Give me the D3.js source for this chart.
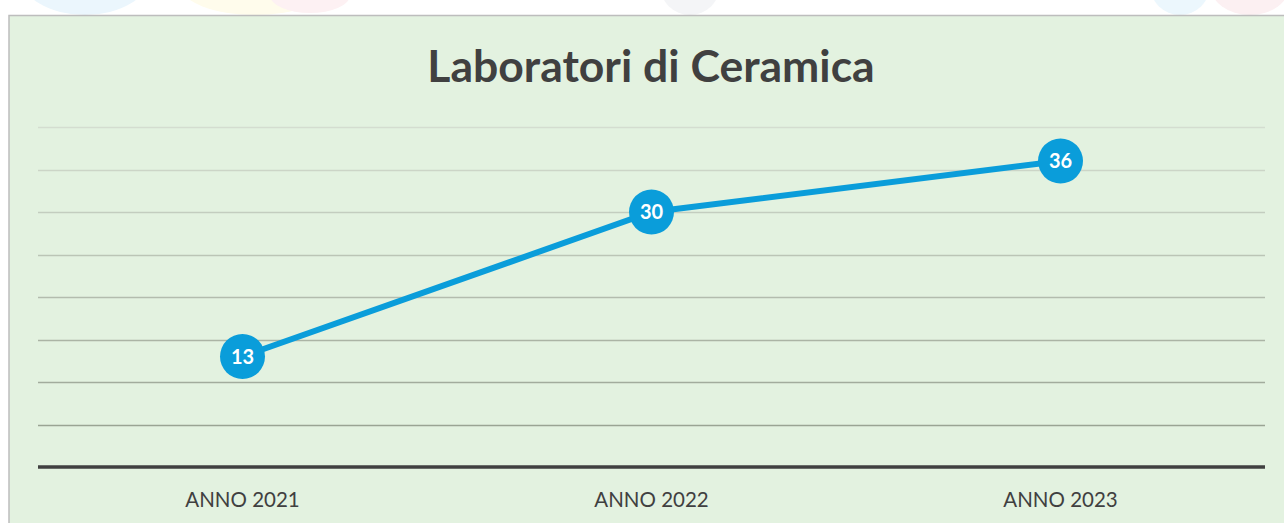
<!DOCTYPE html>
<html>
<head>
<meta charset="utf-8">
<script src="https://cdn.jsdelivr.net/npm/d3@7"></script>
<style>
  body { margin: 0; background: #fff; }
  svg { display: block; }
</style>
</head>
<body>
<div id="chart"></div>
<script>
const years = ['ANNO 2021', 'ANNO 2022', 'ANNO 2023'];
const laboratori = [13, 30, 36];
const gridTicks = [5, 10, 15, 20, 25, 30, 35, 40];
const title = 'Laboratori di Ceramica';

const width = 1284, height = 523;
var svg = d3.select('#chart').append('svg')
  .attr('width', width)
  .attr('height', height);

// faint background shapes above the chart panel
var deco = svg.append('g');
deco.append('ellipse').attr('cx', 85).attr('cy', -25).attr('rx', 65).attr('ry', 40).attr('fill', '#ebf6fd');
deco.append('ellipse').attr('cx', 255).attr('cy', -15).attr('rx', 75).attr('ry', 30).attr('fill', '#fffcec');
deco.append('ellipse').attr('cx', 310).attr('cy', -5).attr('rx', 40).attr('ry', 18).attr('fill', '#fdf1f3');
deco.append('ellipse').attr('cx', 690).attr('cy', -15).attr('rx', 30).attr('ry', 30).attr('fill', '#f4f5f7');
deco.append('ellipse').attr('cx', 1180).attr('cy', -15).attr('rx', 30).attr('ry', 30).attr('fill', '#ecf7fd');
deco.append('ellipse').attr('cx', 1250).attr('cy', -15).attr('rx', 40).attr('ry', 30).attr('fill', '#fcf0f2');

// chart panel
svg.append('rect')
  .attr('x', 9).attr('y', 15.5)
  .attr('width', width).attr('height', height)
  .attr('fill', '#e3f2e0')
  .attr('stroke', '#bdbdbd')
  .attr('stroke-width', 1.5);

var margin = {left: 38, right: 19};
var plotW = width - margin.left - margin.right;

var xScale = d3.scaleBand()
  .domain(years)
  .range([margin.left, margin.left + plotW]);

var yScale = d3.scaleLinear()
  .domain([0, 40])
  .range([467, 127]);

var gridColor = d3.scaleLinear()
  .domain([40, 5])
  .range(['#d4ddd0', '#9aa494']);

svg.append('g')
  .selectAll('line')
  .data(gridTicks)
  .enter().append('line')
  .attr('x1', margin.left)
  .attr('x2', margin.left + plotW)
  .attr('y1', d => Math.round(yScale(d)) + 0.5)
  .attr('y2', d => Math.round(yScale(d)) + 0.5)
  .attr('stroke', d => gridColor(d))
  .attr('stroke-width', 1.5);

// baseline
svg.append('line')
  .attr('x1', margin.left)
  .attr('x2', margin.left + plotW)
  .attr('y1', yScale(0))
  .attr('y2', yScale(0))
  .attr('stroke', '#404040')
  .attr('stroke-width', 3.5);

// x axis labels
var xAxis = svg.append('g')
  .attr('transform', 'translate(0,' + yScale(0) + ')')
  .call(d3.axisBottom(xScale).tickSize(0).tickPadding(25));
xAxis.select('.domain').remove();
xAxis.selectAll('text')
  .attr('font-family', 'Lato, sans-serif')
  .attr('font-size', 20.5)
  .attr('fill', '#404040');

// title
svg.append('text')
  .attr('x', 651)
  .attr('y', 82)
  .attr('text-anchor', 'middle')
  .attr('font-family', 'Lato, sans-serif')
  .attr('font-weight', 'bold')
  .attr('font-size', 44.5)
  .attr('fill', '#404040')
  .text(title);

var cx = d => xScale(d.year) + xScale.bandwidth() / 2;
var points = years.map((y, i) => ({year: y, value: laboratori[i]}));

var line = d3.line()
  .x(cx)
  .y(d => yScale(d.value));

svg.append('path')
  .datum(points)
  .attr('fill', 'none')
  .attr('stroke', '#0a9dda')
  .attr('stroke-width', 6)
  .attr('stroke-linecap', 'round')
  .attr('d', line);

var marks = svg.append('g')
  .selectAll('g')
  .data(points)
  .enter().append('g')
  .attr('transform', d => 'translate(' + cx(d) + ',' + yScale(d.value) + ')');

marks.append('circle')
  .attr('r', 22.5)
  .attr('fill', '#0a9dda');

marks.append('text')
  .attr('text-anchor', 'middle')
  .attr('dy', '0.36em')
  .attr('font-family', 'Lato, sans-serif')
  .attr('font-weight', 'bold')
  .attr('font-size', 20)
  .attr('fill', '#ffffff')
  .text(d => d.value);
</script>
</body>
</html>
